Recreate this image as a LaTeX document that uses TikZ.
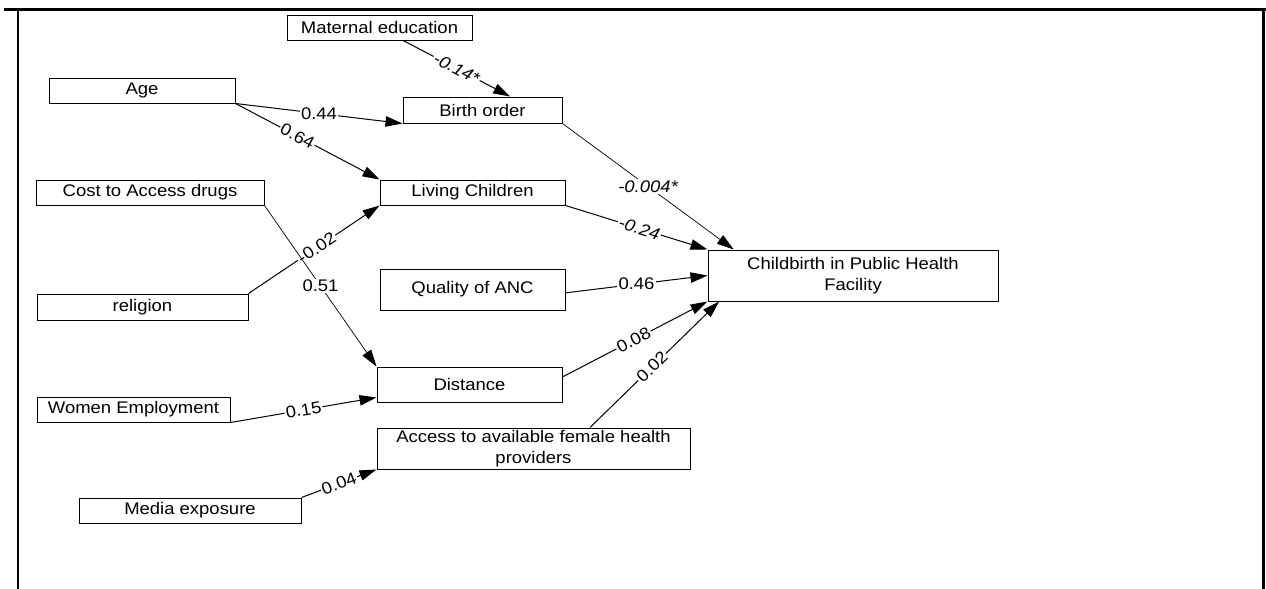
\documentclass[tikz,border=0pt]{standalone}
\usepackage{fontspec}
\setmainfont[FakeStretch=1.1]{Liberation Sans}
\usetikzlibrary{arrows.meta,calc}

\begin{document}
\begin{tikzpicture}[x=0.5pt,y=-0.5pt,
  box/.style={draw,line width=0.5pt,inner sep=0pt,align=center,font=\fontsize{8.4}{10.8}\selectfont},
  path/.style={line width=0.5pt,-{Triangle[length=8.5pt,width=5.2pt]}},
  thinpath/.style={line width=0.35pt,-{Triangle[length=8.5pt,width=5.2pt]}},
  coef/.style={fill=white,inner sep=0.6pt,font=\fontsize{8.4}{10.8}\selectfont}]
\useasboundingbox (0,0) rectangle (1266,589);

% frame
\draw[line width=1.5pt] (4,9.5) -- (1266,9.5);
\draw[line width=1pt] (18.3,9.5) -- (18.3,589);
\draw[line width=1.5pt] (1263.5,9.5) -- (1263.5,589);

% variables
\node[box,minimum width=92.5pt,minimum height=12.5pt] (mat) at (379.5,27.5) {Maternal education};
\node[box,minimum width=93pt,minimum height=12.5pt] (age) at (142,90.5) {Age};
\node[box,minimum width=79.5pt,minimum height=13pt] (birth) at (482.5,110) {Birth order};
\node[box,minimum width=114pt,minimum height=12.5pt] (cost) at (150,192.5) {Cost to Access drugs};
\node[box,minimum width=92.5pt,minimum height=12.5pt] (living) at (472.5,192.5) {Living Children};
\node[box,minimum width=105.5pt,minimum height=13pt] (religion) at (142.5,307) {religion};
\node[box,minimum width=92.5pt,minimum height=20.5pt] (quality) at (472.5,289.5) {Quality of ANC};
\node[box,minimum width=145pt,minimum height=25.5pt] (child) at (853,275.5) {Childbirth in Public Health\\Facility};
\node[box,minimum width=92.5pt,minimum height=17.5pt] (distance) at (469.5,384.5) {Distance};
\node[box,minimum width=96.5pt,minimum height=12.5pt] (women) at (133.5,409.5) {Women Employment};
\node[box,minimum width=156.5pt,minimum height=20.5pt] (access) at (533.5,448.5) {Access to available female health\\providers};
\node[box,minimum width=111pt,minimum height=12.5pt] (media) at (190,510.5) {Media exposure};

% paths
\draw[path] ($(mat.south west)!0.627!(mat.south east)$) -- ($(birth.north west)!0.673!(birth.north east)$)
  node[coef,pos=0.5,sloped] {\itshape -0.14*};
\draw[path] (age.south east) -- (birth.south west) node[coef,pos=0.5] {0.44};
\draw[path] (age.south east) -- (living.north west) node[coef,pos=0.43,sloped] {0.64};
\draw[path] (religion.north east) -- (living.south west) node[coef,pos=0.52,sloped] {-0.02};
\draw[thinpath] (cost.south east) -- (distance.north west) node[coef,pos=0.5] {0.51};
\draw[thinpath] (birth.south east) -- ($(child.north west)!0.09!(child.north east)$)
  node[coef,pos=0.5] {\itshape -0.004*};
\draw[path] (living.south east) -- (child.north west) node[coef,pos=0.52,sloped] {\itshape -0.24};
\draw[path] ($(quality.north east)!0.58!(quality.south east)$) -- (child.west) node[coef,pos=0.5] {0.46};
\draw[path] ($(distance.north east)!0.29!(distance.south east)$) -- (child.south west)
  node[coef,pos=0.49,sloped] {0.08};
\draw[path] ($(access.north west)!0.68!(access.north east)$) -- ($(child.south west)!0.04!(child.south east)$)
  node[coef,pos=0.48,sloped] {0.02};
\draw[path] (women.south east) -- ($(distance.north west)!0.86!(distance.south west)$)
  node[coef,pos=0.5,sloped] {0.15};
\draw[path] (media.north east) -- (access.south west) node[coef,pos=0.5,sloped] {0.04};
\end{tikzpicture}
\end{document}
